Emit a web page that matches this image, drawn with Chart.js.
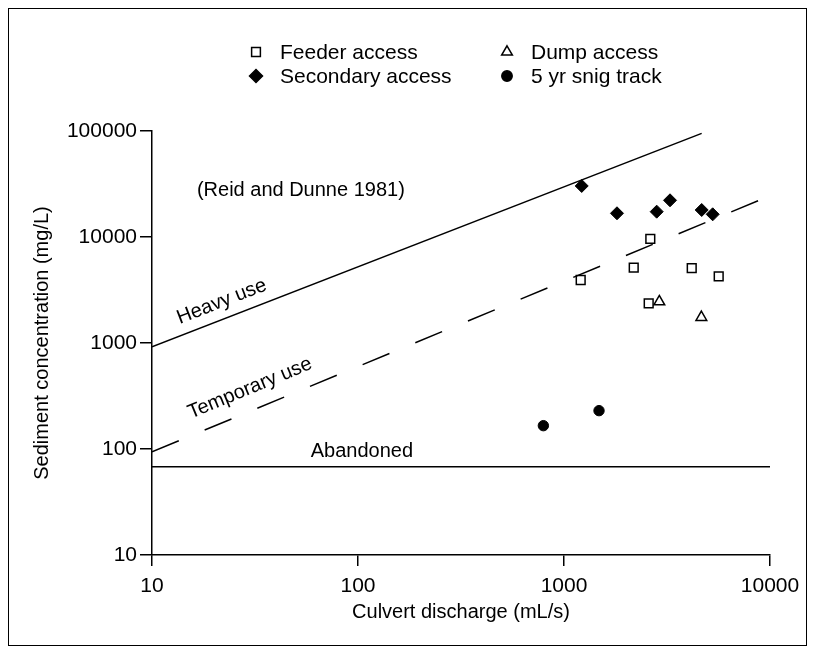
<!DOCTYPE html>
<html>
<head>
<meta charset="utf-8">
<script src="https://cdn.jsdelivr.net/npm/chart.js@4.4.1/dist/chart.umd.min.js"></script>
<style>
html,body{margin:0;background:#fff;}
#wrap{width:816px;height:654px;position:relative;}
</style>
</head>
<body>
<div id="wrap"><canvas id="myChart"></canvas></div>
<script>
// tick values
const xTicks=[10,100,1000,10000];
const yTicks=[10,100,1000,10000,100000];

// measured points
const feederX=[2624,2180,1205,4169,5636,2577];
const feederY=[9580,5130,3930,5090,4260,2370];
const dumpX=[2902,4643];
const dumpY=[2453,1747];
const secondaryX=[1219,1808,2818,3271,4660,5270];
const secondaryY=[30300,16740,17330,22190,17980,16370];
const snigX=[794,1479];
const snigY=[166,230];

// Reid and Dunne lines
const heavyX=[10,4660];
const heavyY=[920,95000];
const tempX=[10,9120];
const tempY=[94,22700];
const abandX=[10,10000];
const abandY=[68,68];

function pts(xs,ys){return xs.map((x,i)=>({x:x,y:ys[i]}));}

Chart.defaults.font.family="'Liberation Sans', Arial, sans-serif";
Chart.defaults.font.size=21;
Chart.defaults.color='#000';

// text written on the plot, placed in data units
const notes=[
  {text:'(Reid and Dunne 1981)',x:52.8,y:27700,line:null},
  {text:'Heavy use',x:21.8,y:2455,line:0},
  {text:'Temporary use',x:29.9,y:374,line:1},
  {text:'Abandoned',x:104.5,y:93.8,line:null}
];

const legendItems=[
  {text:'Feeder access',style:'rect',fill:'#fff',r:6.2,col:0,row:0},
  {text:'Dump access',style:'triangle',fill:'#fff',r:6.2,col:1,row:0},
  {text:'Secondary access',style:'rectRot',fill:'#000',r:6.5,col:0,row:1},
  {text:'5 yr snig track',style:'circle',fill:'#000',r:5.2,col:1,row:1}
];

const extras={
  id:'extras',
  beforeDraw(chart){
    const ctx=chart.ctx;
    ctx.save();
    ctx.strokeStyle='#000';
    ctx.lineWidth=1;
    ctx.strokeRect(8.5,8.5,798,637);
    ctx.restore();
  },
  afterDraw(chart){
    const ctx=chart.ctx;
    const xs=chart.scales.x, ys=chart.scales.y;
    ctx.save();
    ctx.fillStyle='#000';
    ctx.font="20px 'Liberation Sans', Arial, sans-serif";
    ctx.textAlign='center';
    ctx.textBaseline='middle';
    const lines=[[heavyX,heavyY],[tempX,tempY]];
    notes.forEach(n=>{
      let ang=0;
      if(n.line!==null){
        const L=lines[n.line];
        const dx=xs.getPixelForValue(L[0][1])-xs.getPixelForValue(L[0][0]);
        const dy=ys.getPixelForValue(L[1][1])-ys.getPixelForValue(L[1][0]);
        ang=Math.atan2(dy,dx);
      }
      ctx.save();
      ctx.translate(xs.getPixelForValue(n.x),ys.getPixelForValue(n.y));
      ctx.rotate(ang);
      ctx.fillText(n.text,0,0);
      ctx.restore();
    });
    // legend
    ctx.font="21px 'Liberation Sans', Arial, sans-serif";
    ctx.textAlign='left';
    const colX=[256,507], rowY=[52,76];
    legendItems.forEach(it=>{
      const px=colX[it.col], py=rowY[it.row];
      ctx.fillStyle=it.fill;
      ctx.strokeStyle='#000';
      ctx.lineWidth=1.5;
      Chart.helpers.drawPoint(ctx,{pointStyle:it.style,radius:it.r,rotation:0,borderWidth:1.5},px,py);
      ctx.fillStyle='#000';
      ctx.fillText(it.text,px+24,py+1);
    });
    ctx.restore();
  }
};

const lineDs=(label,xs,ys,dash)=>({
  label:label,data:pts(xs,ys),showLine:true,pointRadius:0,
  borderColor:'#000',borderWidth:1.5,borderDash:dash,fill:false
});

new Chart(document.getElementById('myChart'),{
  type:'scatter',
  data:{datasets:[
    lineDs('Heavy use',heavyX,heavyY,[]),
    lineDs('Temporary use',tempX,tempY,[29,28]),
    lineDs('Abandoned',abandX,abandY,[]),
    {label:'Feeder access',data:pts(feederX,feederY),pointStyle:'rect',pointRadius:6.2,
      backgroundColor:'#fff',borderColor:'#000',borderWidth:1.5},
    {label:'Dump access',data:pts(dumpX,dumpY),pointStyle:'triangle',pointRadius:6.2,
      backgroundColor:'#fff',borderColor:'#000',borderWidth:1.5},
    {label:'Secondary access',data:pts(secondaryX,secondaryY),pointStyle:'rectRot',pointRadius:6.5,
      backgroundColor:'#000',borderColor:'#000',borderWidth:1},
    {label:'5 yr snig track',data:pts(snigX,snigY),pointStyle:'circle',pointRadius:5.2,
      backgroundColor:'#000',borderColor:'#000',borderWidth:1}
  ]},
  options:{
    responsive:true,maintainAspectRatio:false,animation:false,
    layout:{padding:{top:131,right:46,left:0,bottom:30}},
    plugins:{legend:{display:false},tooltip:{enabled:false}},
    scales:{
      x:{
        type:'logarithmic',min:10,max:10000,
        afterBuildTicks(s){s.ticks=xTicks.map(v=>({value:v}));},
        afterFit(s){s.height=69;},
        ticks:{callback:v=>String(v),maxRotation:0,autoSkip:false,padding:8},
        grid:{drawOnChartArea:false,drawTicks:true,tickLength:11,color:'#000',lineWidth:1.5},
        border:{display:true,color:'#000',width:1.5},
        title:{display:true,text:'Culvert discharge (mL/s)',font:{size:20},padding:{top:0,bottom:0}}
      },
      y:{
        type:'logarithmic',min:10,max:100000,
        afterBuildTicks(s){s.ticks=yTicks.map(v=>({value:v}));},
        afterFit(s){s.width=152;},
        ticks:{callback:v=>String(v),autoSkip:false,padding:3},
        grid:{drawOnChartArea:false,drawTicks:true,tickLength:12,color:'#000',lineWidth:1.5},
        border:{display:true,color:'#000',width:1.5},
        title:{display:true,text:'Sediment concentration (mg/L)',font:{size:20},padding:{top:30,bottom:0}}
      }
    }
  },
  plugins:[extras]
});
</script>
</body>
</html>
